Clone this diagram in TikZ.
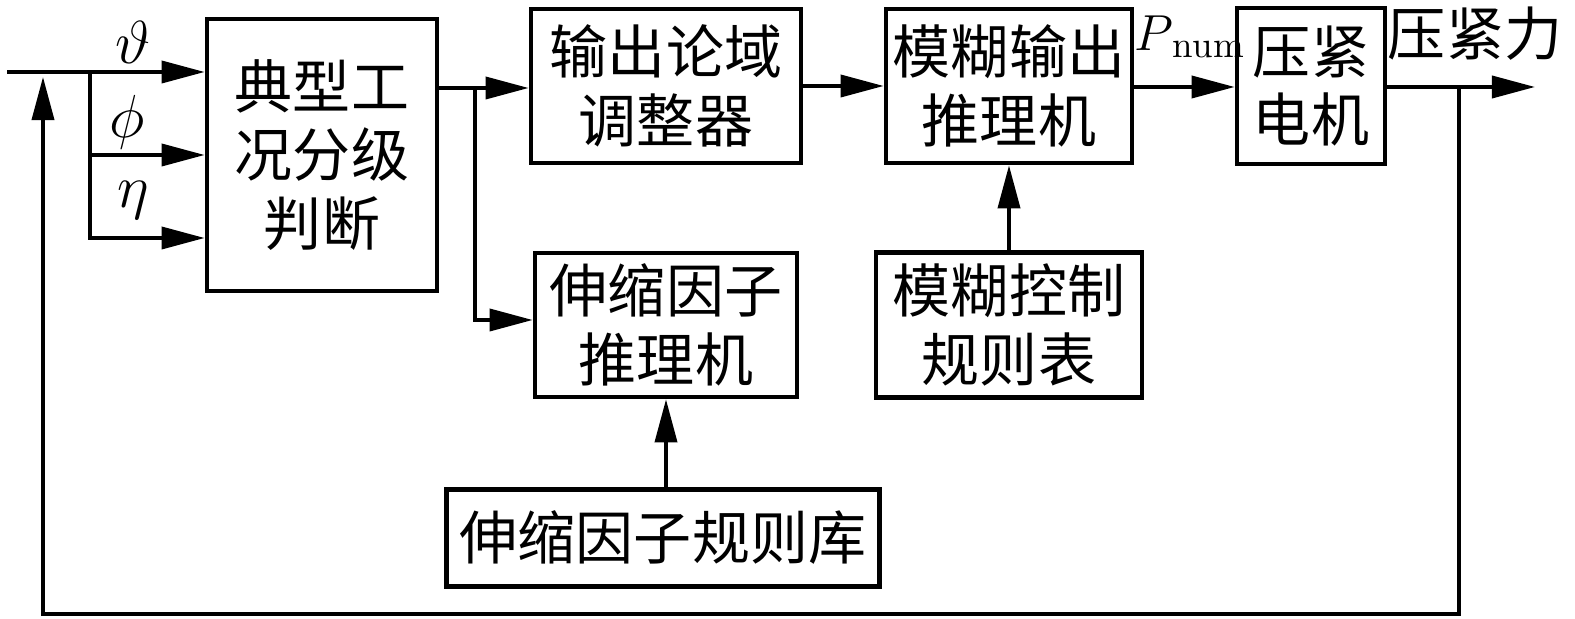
\documentclass[tikz,border=0pt]{standalone}
\usepackage{fontspec}
\newfontfamily\cjk{Noto Sans CJK SC}
\usetikzlibrary{arrows.meta}
\tikzset{
	blk/.style={draw, line width=1.3pt, align=center, inner sep=0pt, font=\cjk\fontsize{16.5}{19.5}\selectfont},
	arr/.style={line width=1.05pt, -{Triangle[length=4.3mm, width=2.2mm]}},
	ln/.style={line width=1.05pt},
	sym/.style={font=\fontsize{16}{18}\selectfont}
}
\begin{document}
\begin{tikzpicture}[x=0.01cm,y=-0.01cm]
	\useasboundingbox (0,0) rectangle (1575,619);
	\node[blk, minimum width=2.30cm, minimum height=2.72cm] (gkpd) at (322,155) {典型工\\况分级\\判断};
	\node[blk, minimum width=2.70cm, minimum height=1.54cm] (lytz) at (666,86) {输出论域\\调整器};
	\node[blk, minimum width=2.46cm, minimum height=1.54cm] (mhtl) at (1009,86) {模糊输出\\推理机};
	\node[blk, minimum width=1.48cm, minimum height=1.56cm] (yjdj) at (1311,86) {压紧\\电机};
	\node[blk, minimum width=2.62cm, minimum height=1.44cm] (sstl) at (666,325) {伸缩因子\\推理机};
	\node[blk, minimum width=2.66cm, minimum height=1.45cm] (mhgz) at (1009,325) {模糊控制\\规则表};
	\node[blk, minimum width=4.33cm, minimum height=0.97cm] (ssgz) at (663,538) {伸缩因子规则库};
	\coordinate (in) at (7,72);
	\coordinate (fk) at (90,72);
	\coordinate (fs) at (475,88);
	\coordinate (out) at (1535,87);
	\coordinate (fb) at (1459,87);
	\coordinate (fbl) at (43,614);
	\node[sym] (th) at (133,42) {$\vartheta$};
	\node[sym] (ph) at (127,122) {$\phi$};
	\node[sym] (et) at (133,200) {$\eta$};
	\node[font=\fontsize{15}{18}\selectfont] (pn) at (1190,37) {$P_{\,\mathrm{num}}$};
	\node[font=\cjk\fontsize{16.5}{19.5}\selectfont] (yjl) at (1475,34) {压紧力};
	\draw[arr] (in) -- (gkpd.west |- in);
	\draw[arr] (fk) |- (gkpd.west |- 0,155);
	\draw[arr] (fk) |- (gkpd.west |- 0,238);
	\draw[ln] (gkpd.east |- fs) -- (fs);
	\draw[arr] (fs) -- (lytz.west |- fs);
	\draw[arr] (fs) |- (sstl.west |- 0,320);
	\draw[arr] (lytz.east |- mhtl.west) -- (mhtl.west);
	\draw[arr] (mhtl.east |- out) -- (yjdj.west |- out);
	\draw[arr] (yjdj.east |- out) -- (out);
	\draw[arr] (mhgz.north) -- (mhtl.south);
	\draw[arr] (ssgz.north -| sstl.south) -- (sstl.south);
	\draw[arr] (fb) -- (fb |- fbl) -- (fbl) -- (43,77);
\end{tikzpicture}
\end{document}
